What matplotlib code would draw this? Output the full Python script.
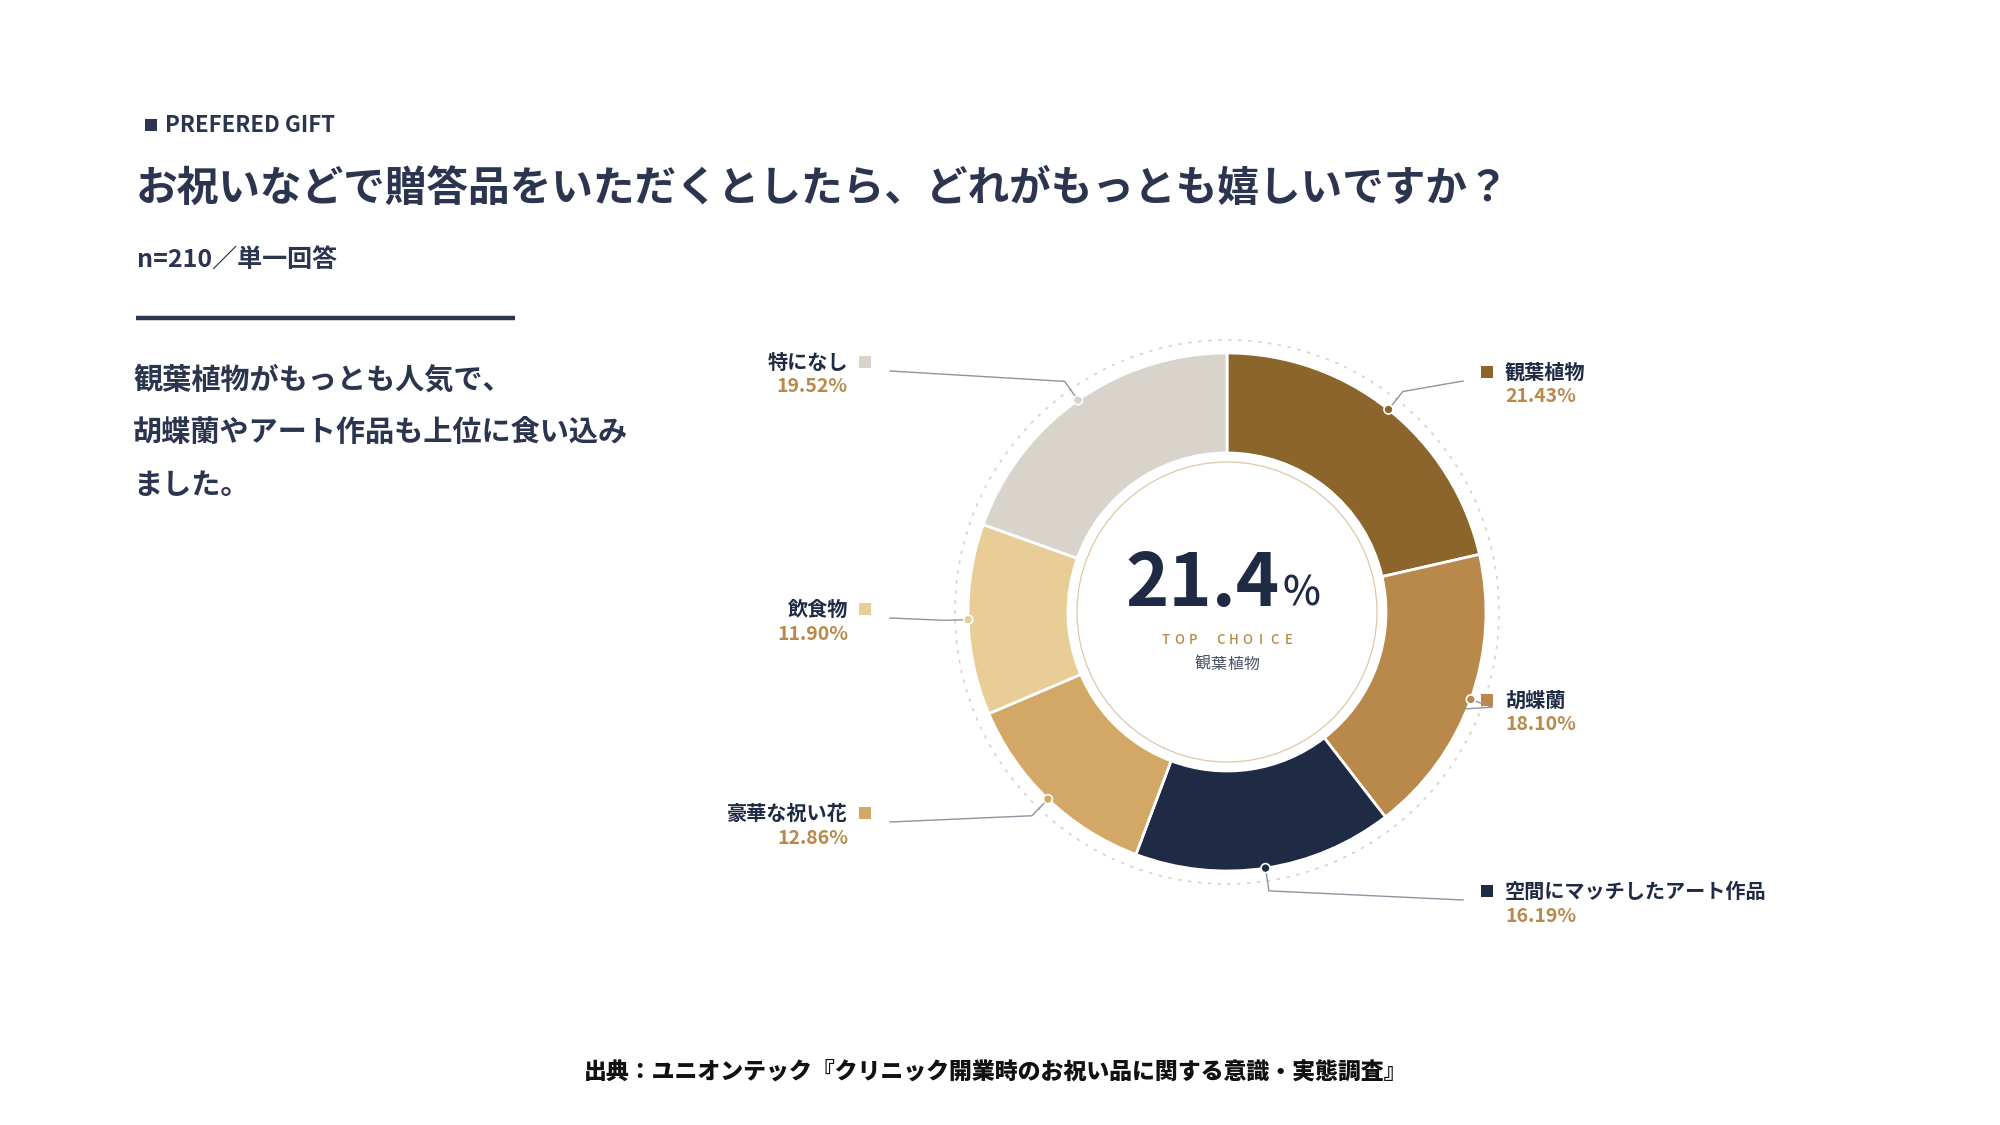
import numpy as np
import matplotlib.pyplot as plt
from matplotlib.patches import Rectangle, Circle

plt.rcParams['font.family'] = ['Noto Sans CJK JP', 'DejaVu Sans']

W, H = 2000, 1125

# data
categories = ['観葉植物', '胡蝶蘭', '空間にマッチしたアート作品', '豪華な祝い花', '飲食物', '特になし']
shares = [21.43, 18.10, 16.19, 12.86, 11.90, 19.52]
slice_colors = ['#8B652C', '#B8894A', '#1F2A44', '#D3A765', '#E8CE96', '#D9D4CB']

title = 'お祝いなどで贈答品をいただくとしたら、どれがもっとも嬉しいですか？'
tag = 'PREFERED GIFT'
sample = 'n=210／単一回答'
summary = ['観葉植物がもっとも人気で、', '胡蝶蘭やアート作品も上位に食い込み', 'ました。']
source = '出典：ユニオンテック『クリニック開業時のお祝い品に関する意識・実態調査』'

# layout (pixels, y from top)
label_side = ['right', 'right', 'right', 'left', 'left', 'left']
label_y = [371, 699, 890, 812, 608, 361]

NAVY = '#2B3550'
DARK = '#1F2A44'
GOLD = '#B8894A'

cx, cy = 1227, 612
R, r_in = 259, 159


def fy(y):
    return H - y


fig = plt.figure(figsize=(20, 11.25), dpi=100)
ax = fig.add_axes([0, 0, 1, 1])

ax.pie(shares, colors=slice_colors, startangle=90, counterclock=False,
       center=(cx, fy(cy)), radius=R,
       wedgeprops=dict(width=R - r_in, edgecolor='white', linewidth=2))
ax.set_xlim(0, W)
ax.set_ylim(0, H)
ax.axis('off')

# decorative rings
ax.add_patch(Circle((cx, fy(cy)), 272, fill=False, ec='#D8D2C8', lw=1.2,
                    ls=(0, (2, 4))))
ax.add_patch(Circle((cx, fy(cy)), 150, fill=False, ec='#DCC8A8', lw=0.9))

# header
ax.add_patch(Rectangle((145, fy(131)), 12, 12, color=NAVY, lw=0))
ax.text(165, fy(126), tag, fontsize=16, fontweight='bold', color=NAVY,
        ha='left', va='center')
ax.text(136, fy(189), title, fontsize=30, fontweight='bold', color=NAVY,
        ha='left', va='center')
ax.text(137, fy(261), sample, fontsize=18, fontweight='bold', color=NAVY,
        ha='left', va='center')
ax.plot([136, 515], [fy(318), fy(318)], color=NAVY, lw=3.2,
        solid_capstyle='butt')
for i, line in enumerate(summary):
    ax.text(133, fy(380 + 52.5 * i), line, fontsize=21, fontweight='bold',
            color=NAVY, ha='left', va='center')

# centre
ax.text(1280, fy(606), '%.1f' % shares[0], fontsize=53, fontweight='bold',
        color=DARK, ha='right', va='baseline')
ax.text(1283, fy(606), '%', fontsize=29, fontweight='medium', color=DARK,
        ha='left', va='baseline')
top = 'TOP CHOICE'
step = 13.6
x0 = cx - step * (len(top) - 1) / 2
for k, ch in enumerate(top):
    ax.text(x0 + k * step, fy(640), ch, fontsize=9.5, fontweight='medium',
            color=GOLD, ha='center', va='center')
for k, ch in enumerate(categories[0]):
    ax.text(cx + (k - 1.5) * 16.5, fy(664), ch, fontsize=11.5, color='#4A5168',
            ha='center', va='center')

# labels and leaders
cum = 0
for name, v, c, side, ly in zip(categories, shares, slice_colors, label_side, label_y):
    a = np.deg2rad(90 - 3.6 * (cum + v / 2))
    cum += v
    dx, dy = np.cos(a), np.sin(a)
    px, py = cx + R * dx, fy(cy) + R * dy
    ex, ey = px + 23 * dx, py + 23 * dy
    if side == 'right':
        endx = 1463
        sq = 1481
        tx, ha = 1505, 'left'
    else:
        endx = 890
        sq = 859
        tx, ha = 848, 'right'
    ax.plot([px, ex, endx], [py, ey, fy(ly + 10)], color='#8E93A0', lw=1,
            zorder=3)
    ax.add_patch(Circle((px, py), 4.5, fc=c, ec='white', lw=1.2, zorder=4))
    ax.add_patch(Rectangle((sq, fy(ly + 7)), 12, 12, color=c, lw=0, zorder=5))
    ax.text(tx, fy(ly + 1), name, fontsize=14.5, fontweight='bold', color=DARK,
            ha=ha, va='center')
    ax.text(tx, fy(ly + 26), '%.2f%%' % v, fontsize=14, fontweight='bold',
            color=GOLD, ha=ha, va='center')

ax.text(996, fy(1072), source, fontsize=16.5, fontweight='heavy', color='#111111',
        ha='center', va='center')

fig.savefig('out.png', dpi=100, facecolor='white')
